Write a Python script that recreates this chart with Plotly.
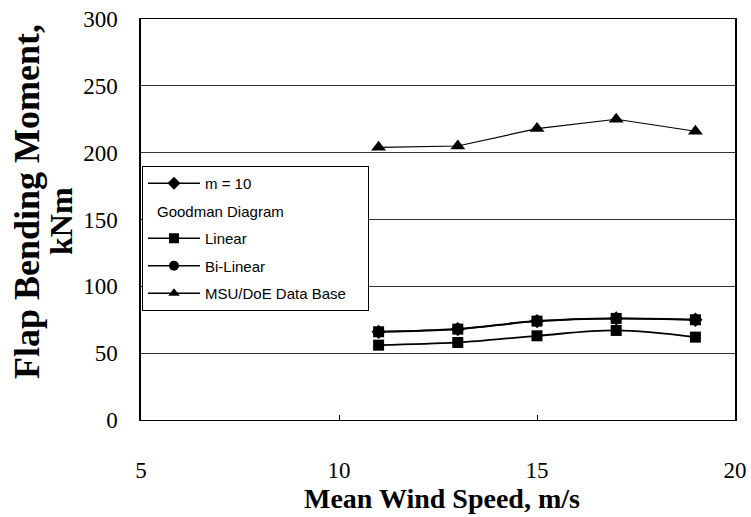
import plotly.graph_objects as go

# ---- data ----
wind_speed = [11, 13, 15, 17, 19]
m10_values = [66, 68, 74, 76, 75]          # hidden beneath the Goodman markers
linear_values = [56, 58, 63, 67, 62]
bilinear_values = [66, 68, 74, 76, 75]
msu_values = [204, 205, 218, 225, 216]

x_ticks = [5, 10, 15, 20]
y_ticks = [0, 50, 100, 150, 200, 250, 300]

legend_names = ["m = 10", " ", "Linear", "Bi-Linear", "MSU/DoE Data Base"]
legend_symbols = ["diamond", None, "square", "circle", "triangle-up"]

fig = go.Figure()

# data traces
fig.add_trace(go.Scatter(x=wind_speed, y=m10_values, mode="lines+markers",
                         line=dict(color="black", width=1.5, shape="spline", smoothing=1.0),
                         marker=dict(symbol="diamond", size=11, color="black"),
                         showlegend=False, hoverinfo="skip"))
fig.add_trace(go.Scatter(x=wind_speed, y=linear_values, mode="lines+markers",
                         line=dict(color="black", width=1.8, shape="spline", smoothing=1.0),
                         marker=dict(symbol="square", size=11, color="black"),
                         showlegend=False))
fig.add_trace(go.Scatter(x=wind_speed, y=bilinear_values, mode="lines+markers",
                         line=dict(color="black", width=2, shape="spline", smoothing=1.0),
                         marker=dict(symbol="square", size=11, color="black"),
                         showlegend=False))
fig.add_trace(go.Scatter(x=wind_speed, y=msu_values, mode="lines+markers",
                         line=dict(color="black", width=1.2),
                         marker=dict(symbol="triangle-up", size=13, color="black"),
                         showlegend=False))

# legend entries (the last name is padded so the box reaches the reference width)
for i, (nm, sym) in enumerate(zip(legend_names, legend_symbols)):
    if i == len(legend_names) - 1:
        nm = nm + "\u00a0" * 4
    if sym is None:
        fig.add_trace(go.Scatter(x=[None], y=[None], mode="lines", name=nm,
                                 line=dict(color="rgba(0,0,0,0)", width=0),
                                 legendgroup=f"g{i}", showlegend=True))
    else:
        fig.add_trace(go.Scatter(x=[None], y=[None], mode="lines+markers", name=nm,
                                 line=dict(color="black", width=1.5),
                                 marker=dict(symbol=sym, size=10, color="black"),
                                 legendgroup=f"g{i}", showlegend=True))

L, R, T, B = 141, 16, 19, 97
W, H = 751, 517
pw, ph = W - L - R, H - T - B

def px_x(px):
    return (px - L) / pw

def px_y(py):
    return (H - B - py) / ph

serif = "Liberation Serif, Times New Roman, serif"

fig.update_layout(
    width=W, height=H,
    margin=dict(l=L, r=R, t=T, b=B, autoexpand=False),
    paper_bgcolor="white", plot_bgcolor="white",
    showlegend=True,
    legend=dict(x=px_x(142), y=px_y(166), xanchor="left", yanchor="top",
                bgcolor="white", bordercolor="black", borderwidth=1,
                font=dict(family="Liberation Sans, Arial, sans-serif", size=15, color="black"),
                itemwidth=52, tracegroupgap=5, traceorder="grouped"),
    xaxis=dict(range=[5, 20], tickvals=x_ticks, ticktext=[str(v) for v in x_ticks],
               showgrid=False, zeroline=False, automargin=False,
               showline=True, linecolor="black", linewidth=1, mirror=True,
               ticks="inside", ticklen=5, tickcolor="black",
               ticklabelstandoff=29,
               tickfont=dict(family=serif, size=23, color="black")),
    yaxis=dict(range=[0, 300], tickvals=y_ticks, ticktext=[str(v) for v in y_ticks],
               showgrid=True, gridcolor="#333333", gridwidth=1, zeroline=False,
               automargin=False,
               showline=True, linecolor="black", linewidth=1.5, mirror=True,
               ticks="", ticklabelstandoff=17,
               tickfont=dict(family=serif, size=23, color="black")),
    annotations=[
        dict(text="Goodman Diagram", xref="paper", yref="paper",
             x=px_x(155), y=px_y(211), xanchor="left", yanchor="middle",
             showarrow=False,
             font=dict(family="Liberation Sans, Arial, sans-serif", size=15, color="black")),
        dict(text="<b>Flap Bending Moment,</b>", xref="paper", yref="paper",
             x=px_x(27), y=px_y(202), xanchor="center", yanchor="middle",
             textangle=-90, showarrow=False,
             font=dict(family=serif, size=36, color="black")),
        dict(text="<b>kNm</b>", xref="paper", yref="paper",
             x=px_x(61), y=px_y(221), xanchor="center", yanchor="middle",
             textangle=-90, showarrow=False,
             font=dict(family=serif, size=32, color="black")),
        dict(text="<b>Mean Wind Speed, m/s</b>", xref="paper", yref="paper",
             x=px_x(442), y=px_y(498), xanchor="center", yanchor="middle",
             showarrow=False,
             font=dict(family=serif, size=28, color="black")),
    ],
)

fig.write_html("out.html")
